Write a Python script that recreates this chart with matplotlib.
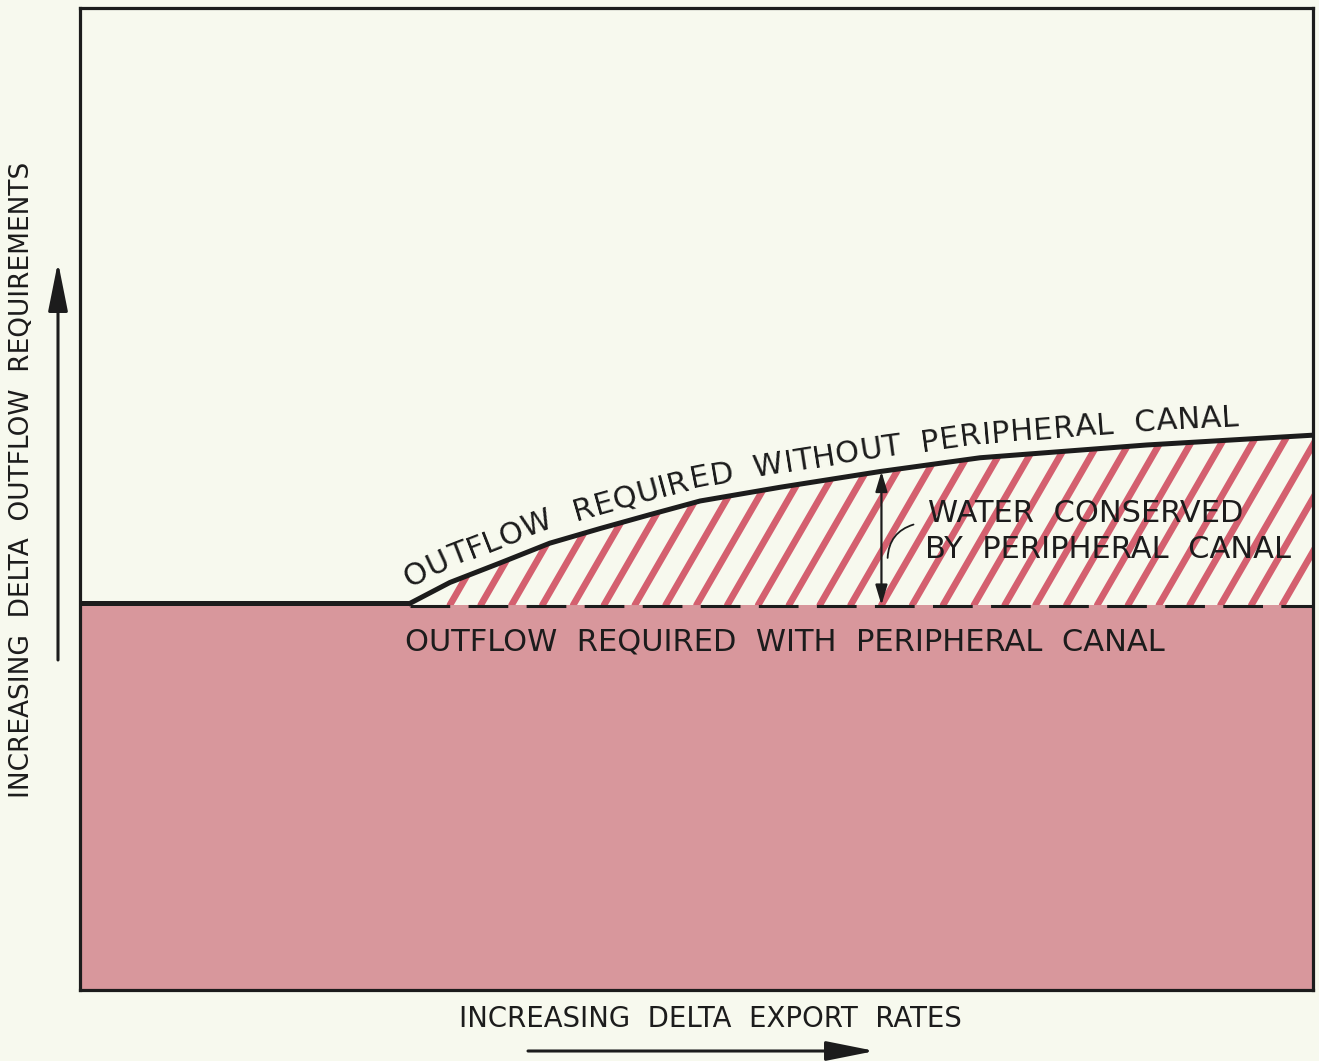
import numpy as np
import matplotlib.pyplot as plt
from matplotlib.patches import Polygon
from matplotlib.transforms import IdentityTransform
from matplotlib.font_manager import FontProperties

# curve: outflow required without peripheral canal (arbitrary 0-100 units)
without_x = [26.8, 30.0, 34.1, 38.1, 42.2, 46.2, 50.3, 56.8, 64.9, 73.0, 86.5, 100.0]
without_y = [39.4, 41.5, 43.5, 45.5, 47.0, 48.4, 49.8, 51.2, 52.8, 54.2, 55.5, 56.5]
# flat level: outflow required with peripheral canal
with_level = 39.2
# location of the "water conserved" dimension arrow
conserved_x = 65.0
conserved_top = 52.8

curve_label = "OUTFLOW  REQUIRED  WITHOUT  PERIPHERAL  CANAL"
base_label = "OUTFLOW  REQUIRED  WITH  PERIPHERAL  CANAL"
conserved_label = ["WATER  CONSERVED", "BY  PERIPHERAL  CANAL"]
xlabel = "INCREASING  DELTA  EXPORT  RATES"
ylabel = "INCREASING  DELTA  OUTFLOW  REQUIREMENTS"

paper = '#f7f9ee'
pink = '#d8979c'
hatch_red = '#d4606f'
ink = '#1c1c1c'

W, H = 1319, 1061
fig = plt.figure(figsize=(W / 100, H / 100), dpi=100, facecolor=paper)
ax = fig.add_axes([80 / W, 71 / H, 1233 / W, 982 / H])
ax.set_facecolor(paper)
ax.set_xlim(0, 100)
ax.set_ylim(0, 100)
ax.set_xticks([])
ax.set_yticks([])
for sp in ax.spines.values():
    sp.set_linewidth(2.3)
    sp.set_color(ink)
    sp.set_zorder(10)

# pink area under the "with canal" level
ax.fill_between([0, 100], 0, with_level, color=pink, lw=0, zorder=1)

# hatched region between the two requirements
verts = list(zip(without_x, without_y)) + [(without_x[-1], with_level), (without_x[0], with_level)]
region = Polygon(verts, closed=True, facecolor='none', edgecolor='none', zorder=2)
ax.add_patch(region)
slope = np.tan(np.radians(60)) * 1233 / 982
for x0 in np.arange(30.0, 100, 2.5):
    hl, = ax.plot([x0, x0 + 25 / slope], [with_level, with_level + 25],
                  color=hatch_red, lw=4.8, solid_capstyle='round', zorder=3)
    hl.set_clip_path(region)

# lines
ax.plot([0, without_x[0]], [with_level + 0.2, with_level + 0.2], color=ink, lw=3.6, zorder=5,
        solid_capstyle='butt')
ax.plot([without_x[0], 100], [with_level - 0.1, with_level - 0.1], color=ink, lw=2.2,
        dashes=(13, 6), zorder=5)
ax.plot(without_x, without_y, color=ink, lw=3.6, zorder=6, solid_joinstyle='round')

# dimension arrow and leader
ax.annotate('', xy=(conserved_x, with_level), xytext=(conserved_x, conserved_top),
            arrowprops=dict(arrowstyle='<|-|>,head_length=0.6,head_width=0.18', mutation_scale=20,
                            lw=1.6, color=ink, shrinkA=0, shrinkB=0), zorder=7)
ax.annotate('', xy=(65.5, 44.0), xytext=(67.6, 47.4),
            arrowprops=dict(arrowstyle='-', lw=1.3, color=ink, shrinkA=0, shrinkB=0,
                            connectionstyle='arc3,rad=0.35'), zorder=7)

fs = 22
ax.text((405 - 80) / 12.33, (990 - 650) / 9.82, base_label, fontsize=fs, color=ink,
        ha='left', va='baseline', zorder=8)
ax.text((928 - 80) / 12.33, (990 - 522) / 9.82, conserved_label[0], fontsize=fs, color=ink,
        ha='left', va='baseline', zorder=8)
ax.text((925 - 80) / 12.33, (990 - 558) / 9.82, conserved_label[1], fontsize=fs, color=ink,
        ha='left', va='baseline', zorder=8)

# axis titles and arrows
fig.text(710 / W, 1 - 1019 / H, xlabel, fontsize=19.8, color=ink, ha='center', va='center')
fig.text(22 / W, 1 - 480 / H, ylabel, fontsize=19.0, color=ink, ha='center', va='center',
         rotation=90)
ax.annotate('', xy=(58, H - 262), xycoords='figure pixels', xytext=(58, H - 660),
            textcoords='figure pixels',
            arrowprops=dict(arrowstyle='-|>,head_length=1.0,head_width=0.2', mutation_scale=30,
                            lw=2.2, color=ink, shrinkA=0, shrinkB=0), annotation_clip=False)
ax.annotate('', xy=(875, H - 1051), xycoords='figure pixels', xytext=(528, H - 1051),
            textcoords='figure pixels',
            arrowprops=dict(arrowstyle='-|>,head_length=1.0,head_width=0.2', mutation_scale=30,
                            lw=2.2, color=ink, shrinkA=0, shrinkB=0), annotation_clip=False)

# text following the curve
fig.canvas.draw()
renderer = fig.canvas.get_renderer()
fp = FontProperties(family='DejaVu Sans', size=fs)
pts = ax.transData.transform(np.column_stack([without_x, without_y]))
seg = np.hypot(np.diff(pts[:, 0]), np.diff(pts[:, 1]))
arc = np.concatenate([[0], np.cumsum(seg)])


def along(s):
    s = np.clip(s, 0, arc[-1])
    return np.interp(s, arc, pts[:, 0]), np.interp(s, arc, pts[:, 1])


def arc_at_x(px):
    return np.interp(px, pts[:, 0], arc)


widths = []
for ch in curve_label:
    if ch == ' ':
        w = renderer.get_text_width_height_descent('a a', fp, ismath=False)[0] - \
            renderer.get_text_width_height_descent('aa', fp, ismath=False)[0]
    else:
        w = renderer.get_text_width_height_descent(ch, fp, ismath=False)[0]
    widths.append(w)
widths = np.array(widths)
s0, s1 = arc_at_x(416), arc_at_x(1240)
track = (s1 - s0 - widths.sum()) / (len(widths) - 1)
offset = 14
s = s0
for ch, w in zip(curve_label, widths):
    sc = s + w / 2
    x, y = along(sc)
    xa, ya = along(sc - 12)
    xb, yb = along(sc + 12)
    ang = np.arctan2(yb - ya, xb - xa)
    nx, ny = -np.sin(ang), np.cos(ang)
    if ch != ' ':
        fig.text(x + nx * offset, y + ny * offset, ch, transform=IdentityTransform(),
                 fontproperties=fp, color=ink, ha='center', va='baseline',
                 rotation=np.degrees(ang), rotation_mode='anchor', zorder=8)
    s += w + track

fig.savefig('out.png', dpi=100, facecolor=paper)
